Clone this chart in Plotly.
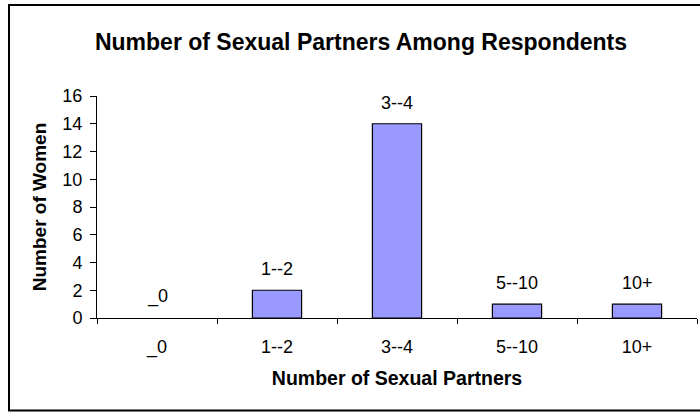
import plotly.graph_objects as go

# Survey responses: how many sexual partners each woman reported
categories = ["_0", "1--2", "3--4", "5--10", "10+"]
women_counts = [0, 2, 14, 1, 1]

FONT = "Liberation Sans, Arial, sans-serif"

# no outline on empty bars so a zero count leaves nothing on the axis
outline_widths = [0 if v == 0 else 1.2 for v in women_counts]

fig = go.Figure(
    go.Bar(
        x=categories,
        y=women_counts,
        width=0.41,
        marker=dict(color="#9999FF", line=dict(color="black", width=outline_widths)),
        hoverinfo="x+y",
    )
)

# category names written above each bar
for cat, val in zip(categories, women_counts):
    fig.add_annotation(
        x=cat,
        y=val,
        text=cat,
        showarrow=False,
        yanchor="bottom",
        yshift=9,
        font=dict(family=FONT, size=18, color="black"),
    )

fig.update_layout(
    width=700,
    height=412,
    margin=dict(l=97, r=3, t=96, b=94),
    paper_bgcolor="white",
    plot_bgcolor="white",
    showlegend=False,
    font=dict(family=FONT, color="black"),
    title=dict(
        text="<b>Number of Sexual Partners Among Respondents</b>",
        x=361 / 700,
        xanchor="center",
        y=1 - 42 / 412,
        yanchor="middle",
        font=dict(family=FONT, size=23, color="black"),
    ),
    xaxis=dict(
        type="category",
        tickson="boundaries",
        ticks="outside",
        ticklen=5,
        tickcolor="black",
        showline=True,
        linecolor="black",
        linewidth=1,
        showgrid=False,
        ticklabelstandoff=12,
        tickfont=dict(family=FONT, size=18, color="black"),
        title=dict(
            text="<b>Number of Sexual Partners</b>",
            font=dict(family=FONT, size=19.5, color="black"),
            standoff=14,
        ),
    ),
    yaxis=dict(
        range=[0, 16],
        dtick=2,
        ticks="outside",
        ticklen=6,
        tickcolor="black",
        showline=True,
        linecolor="black",
        linewidth=1,
        showgrid=False,
        zeroline=False,
        ticklabelstandoff=4,
        tickfont=dict(family=FONT, size=18, color="black"),
        title=dict(
            text="<b>Number of Women</b>",
            font=dict(family=FONT, size=19, color="black"),
            standoff=10,
        ),
    ),
    shapes=[
        dict(
            type="rect",
            xref="paper",
            yref="paper",
            x0=(9 - 97) / 600,
            x1=(706 - 97) / 600,
            y0=(318 - 410.5) / 222,
            y1=(318 - 5) / 222,
            line=dict(color="black", width=2),
            layer="below",
        )
    ],
)

fig.write_html("out.html")
